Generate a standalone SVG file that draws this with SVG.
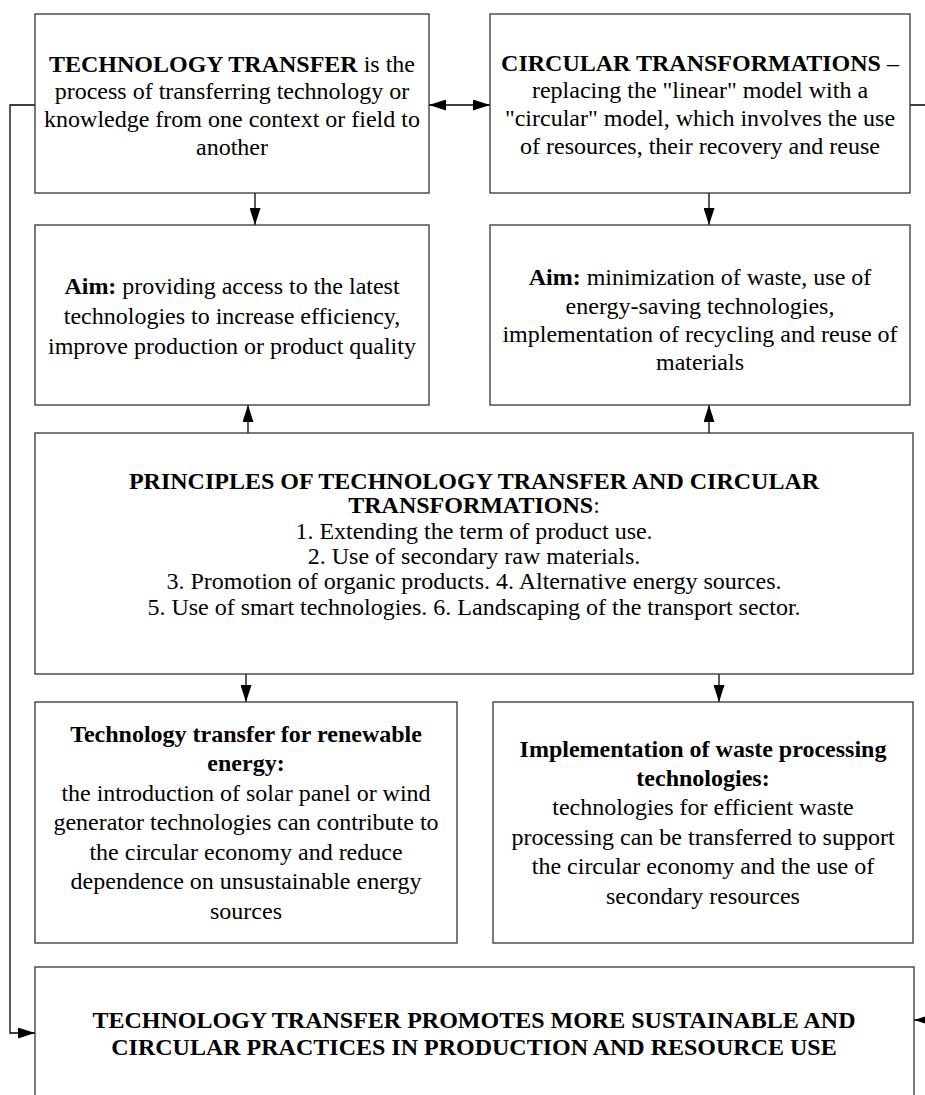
<svg xmlns="http://www.w3.org/2000/svg" width="925" height="1095" viewBox="0 0 925 1095">
<style>
.box{fill:#fff;stroke:#333;stroke-width:1.3}
.t{font-family:"Liberation Serif","Times New Roman",serif;font-size:24px;fill:#000;text-anchor:middle}
.b{font-weight:bold}
.c{fill:none;stroke:#000;stroke-width:1.3}
</style>
<defs>
<marker id="ah" viewBox="0 0 17 11" refX="17" refY="5.5" markerWidth="17" markerHeight="11" orient="auto-start-reverse" markerUnits="userSpaceOnUse"><path d="M0,0 L17,5.5 L0,11 z" fill="#000"/></marker>
</defs>
<rect width="925" height="1095" fill="#fff"/>
<g id="connectors">
<path class="c" d="M429,105 L490,105" marker-start="url(#ah)" marker-end="url(#ah)"/>
<path class="c" d="M35,105 L10,105 L10,1033 L35,1033" marker-end="url(#ah)"/>
<path class="c" d="M910,105 L935,105 L935,1020 L914,1020" marker-end="url(#ah)"/>
<path class="c" d="M255,193 L255,225" marker-end="url(#ah)"/>
<path class="c" d="M709,193 L709,225" marker-end="url(#ah)"/>
<path class="c" d="M248,433 L248,405" marker-end="url(#ah)"/>
<path class="c" d="M709,433 L709,405" marker-end="url(#ah)"/>
<path class="c" d="M246,674 L246,702" marker-end="url(#ah)"/>
<path class="c" d="M719,674 L719,702" marker-end="url(#ah)"/>
</g>
<g id="tech-transfer">
<rect class="box" x="35" y="14" width="394" height="179"/>
<text class="t" x="232" y="72"><tspan class="b">TECHNOLOGY TRANSFER</tspan> is the</text>
<text class="t" x="232" y="99">process of transferring technology or</text>
<text class="t" x="232" y="127">knowledge from one context or field to</text>
<text class="t" x="232" y="155">another</text>
</g>
<g id="circular-transformations">
<rect class="box" x="490" y="14" width="420" height="179"/>
<text class="t" x="700" y="71"><tspan class="b">CIRCULAR TRANSFORMATIONS</tspan> –</text>
<text class="t" x="700" y="98">replacing the "linear" model with a</text>
<text class="t" x="700" y="126">"circular" model, which involves the use</text>
<text class="t" x="700" y="154">of resources, their recovery and reuse</text>
</g>
<g id="aim-tech">
<rect class="box" x="35" y="225" width="394" height="180"/>
<text class="t" x="232" y="294"><tspan class="b">Aim:</tspan> providing access to the latest</text>
<text class="t" x="232" y="324">technologies to increase efficiency,</text>
<text class="t" x="232" y="354">improve production or product quality</text>
</g>
<g id="aim-circular">
<rect class="box" x="490" y="225" width="420" height="180"/>
<text class="t" x="700" y="285"><tspan class="b">Aim:</tspan> minimization of waste, use of</text>
<text class="t" x="700" y="314">energy-saving technologies,</text>
<text class="t" x="700" y="342">implementation of recycling and reuse of</text>
<text class="t" x="700" y="370">materials</text>
</g>
<g id="principles">
<rect class="box" x="35" y="433" width="878" height="241"/>
<text class="t b" x="474" y="489">PRINCIPLES OF TECHNOLOGY TRANSFER AND CIRCULAR</text>
<text class="t" x="474" y="513"><tspan class="b">TRANSFORMATIONS</tspan>:</text>
<text class="t" x="474" y="539">1. Extending the term of product use.</text>
<text class="t" x="474" y="564">2. Use of secondary raw materials.</text>
<text class="t" x="474" y="589">3. Promotion of organic products. 4. Alternative energy sources.</text>
<text class="t" x="474" y="615">5. Use of smart technologies. 6. Landscaping of the transport sector.</text>
</g>
<g id="renewable">
<rect class="box" x="35" y="702" width="422" height="241"/>
<text class="t b" x="246" y="742">Technology transfer for renewable</text>
<text class="t b" x="246" y="771">energy:</text>
<text class="t" x="246" y="801">the introduction of solar panel or wind</text>
<text class="t" x="246" y="830">generator technologies can contribute to</text>
<text class="t" x="246" y="860">the circular economy and reduce</text>
<text class="t" x="246" y="889">dependence on unsustainable energy</text>
<text class="t" x="246" y="919">sources</text>
</g>
<g id="waste">
<rect class="box" x="493" y="702" width="420" height="241"/>
<text class="t b" x="703" y="757">Implementation of waste processing</text>
<text class="t b" x="703" y="786">technologies:</text>
<text class="t" x="703" y="815">technologies for efficient waste</text>
<text class="t" x="703" y="845">processing can be transferred to support</text>
<text class="t" x="703" y="874">the circular economy and the use of</text>
<text class="t" x="703" y="904">secondary resources</text>
</g>
<g id="result">
<rect class="box" x="35" y="967" width="879" height="150"/>
<text class="t b" x="474" y="1028">TECHNOLOGY TRANSFER PROMOTES MORE SUSTAINABLE AND</text>
<text class="t b" x="474" y="1055">CIRCULAR PRACTICES IN PRODUCTION AND RESOURCE USE</text>
</g>
</svg>
